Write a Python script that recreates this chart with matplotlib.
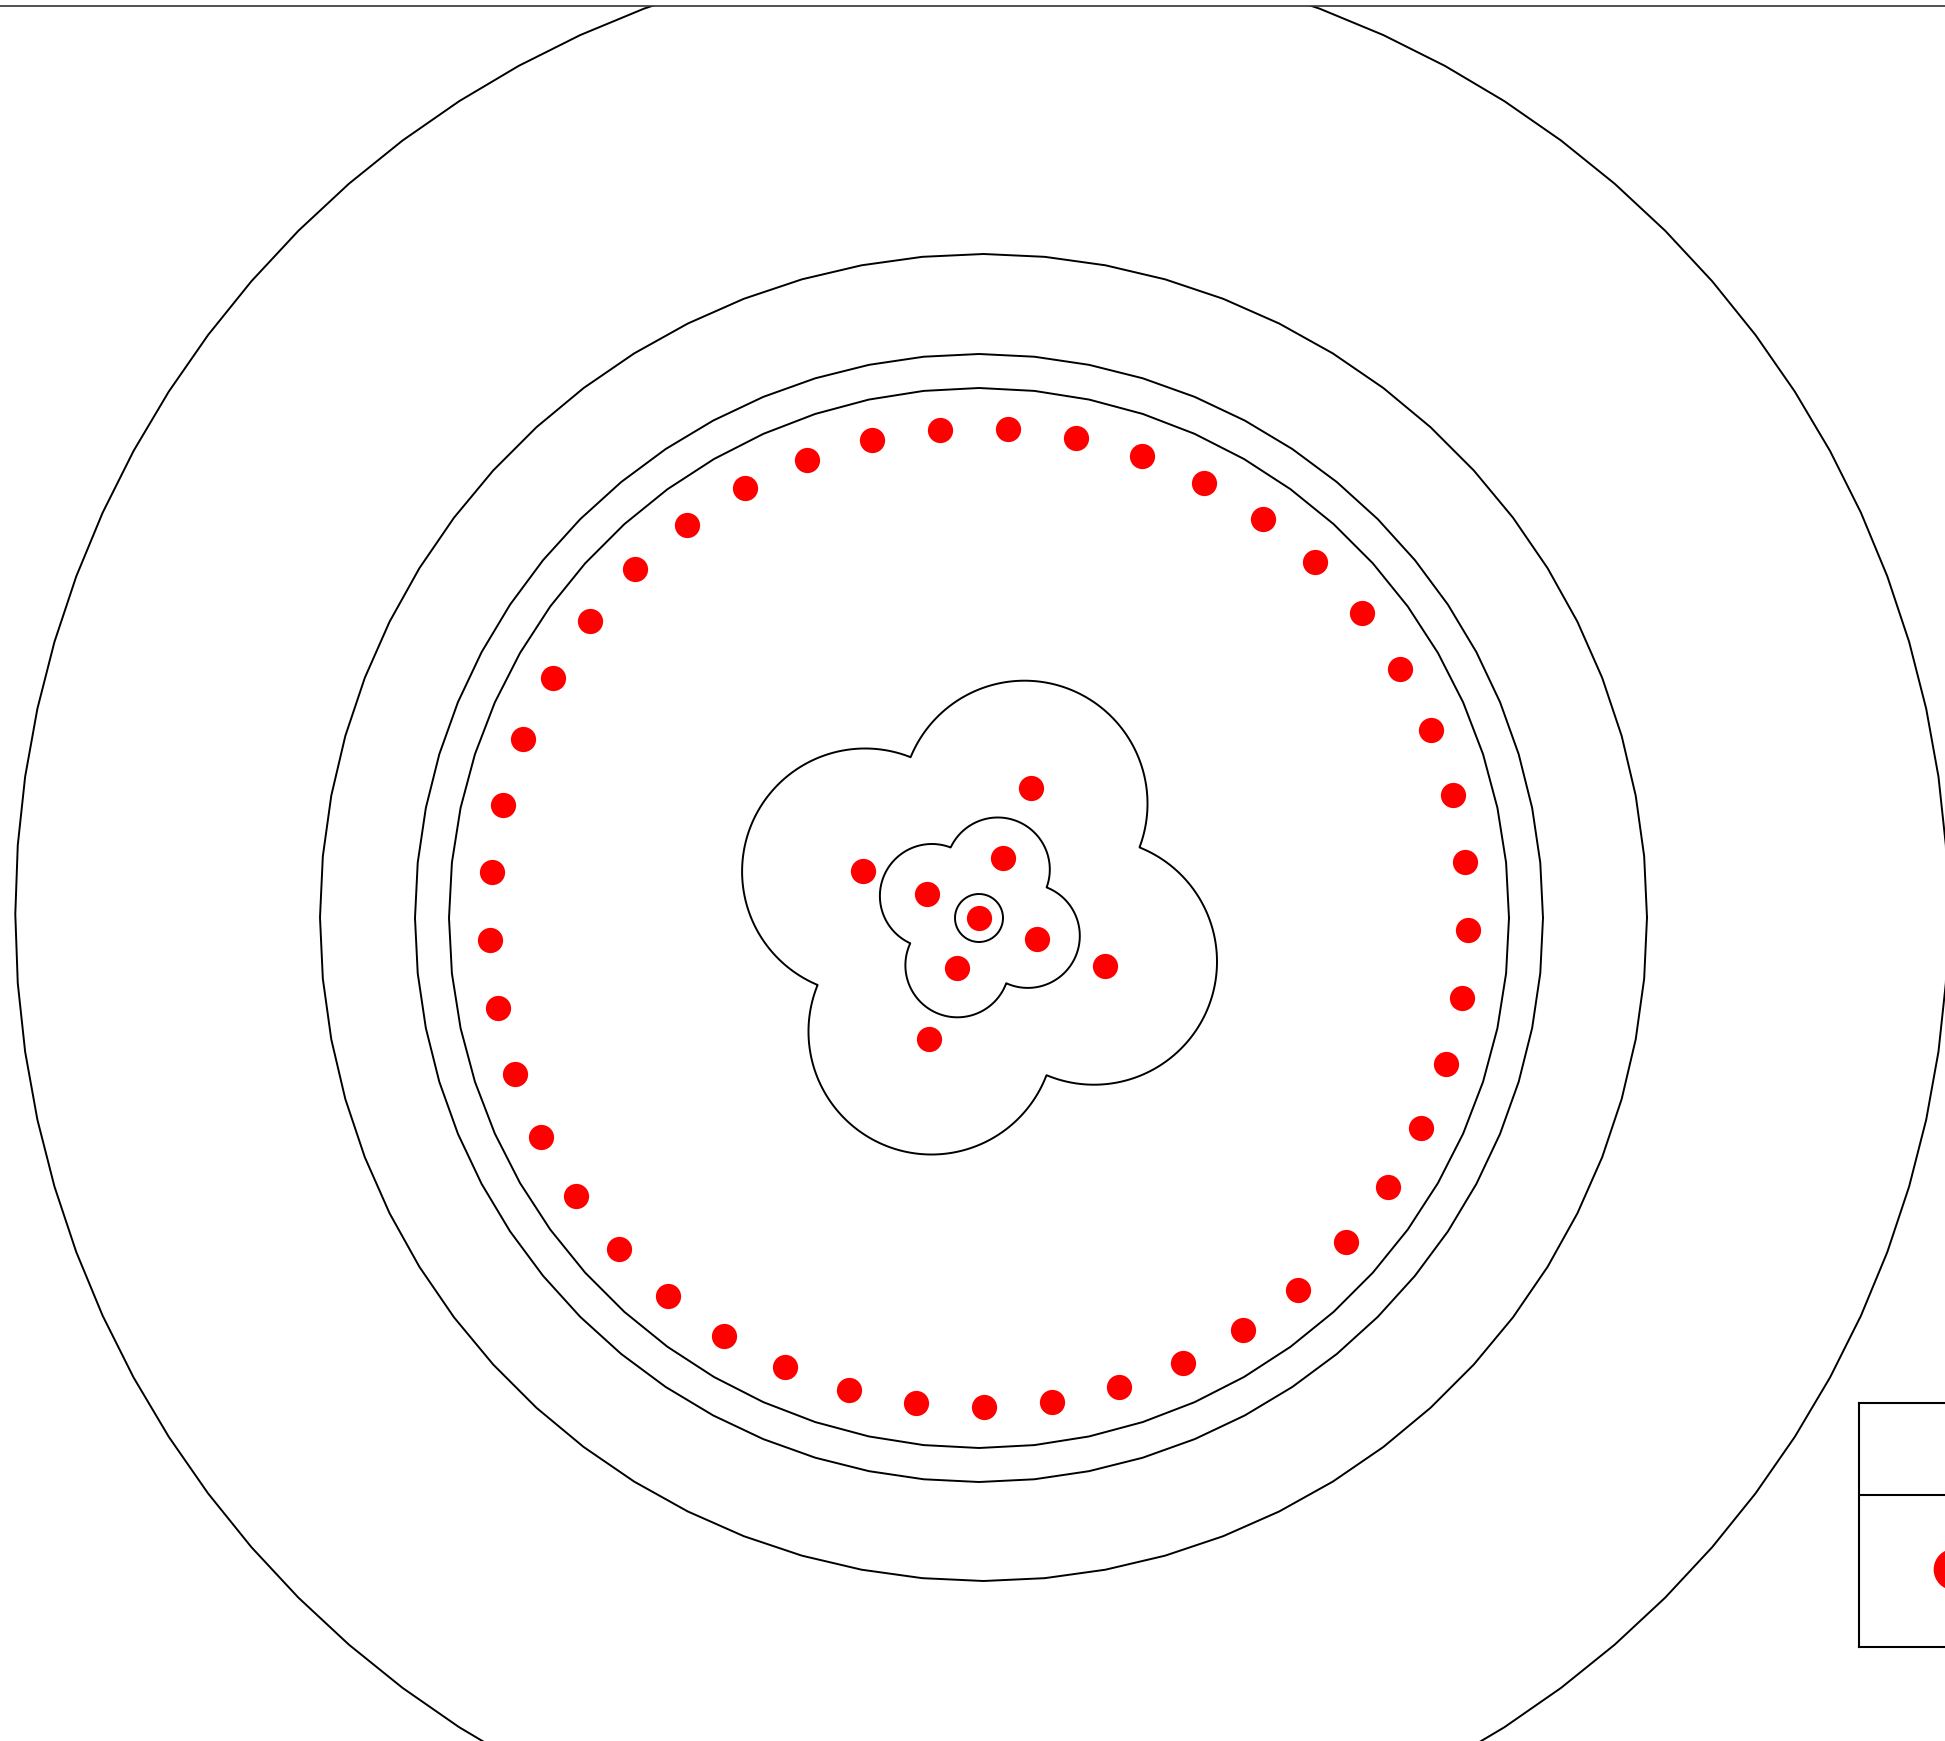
""" Nested contours around clustered points """

import numpy as np
import matplotlib.pyplot as plt

# data (units of 100 px, origin at the centre point)
center_point = (0.0, 0.0)

inner_x = [0.237, 0.577, -0.223, -0.517]
inner_y = [0.600, -0.213, -0.500, 0.240]

middle_x = [0.520, 1.260, -0.503, -1.157]
middle_y = [1.297, -0.480, -1.210, 0.470]

ring_radius = 4.895
ring_angles = [-1.4, 6.6, 14.6, 22.6, 30.6, 38.6, 46.6, 54.6, 62.6, 70.6,
               78.6, 86.6, 94.6, 102.6, 110.6, 118.6, 126.6, 134.6, 142.6,
               150.6, 158.6, 166.6, 174.6, 182.6, 190.6, 198.6, 206.6, 214.6,
               222.6, 230.6, 238.6, 246.6, 254.6, 262.6, 270.6, 278.6, 286.6,
               294.6, 302.6, 310.6, 318.6, 326.6, 334.6, 342.6, 350.6]

# contour shapes
small_circle_r = 0.24
inner_lobes_x = [0.188, 0.488, -0.216, -0.471]
inner_lobes_y = [0.485, -0.179, -0.473, 0.220]
inner_lobe_r = 0.52
outer_lobes_x = [0.455, 1.150, -0.475, -1.139]
outer_lobes_y = [1.143, -0.437, -1.135, 0.465]
outer_lobe_r = 1.23
circle_radii = [5.30, 5.64, 6.635, 9.665]
circle_cx = [0.0, 0.0, 0.045, 0.028]
circle_cy = [0.0, 0.0, 0.005, 0.038]
circle_sides = [60, 64, 68, 88]

fig = plt.figure(figsize=(19.45, 17.41), dpi=100)
ax = fig.add_axes([0, 0, 1, 1 - 6 / 1741])
ax.set_xlim(-9.79, 9.66)
ax.set_ylim(-8.23, 9.12)
ax.set_xticks([])
ax.set_yticks([])
for side in ["left", "right", "bottom"]:
    ax.spines[side].set_visible(False)
ax.spines["top"].set_linewidth(1.2)
ax.spines["top"].set_color("#333333")

lw = 1.4

# big circles (polygonal)
for r, cx, cy, n in zip(circle_radii, circle_cx, circle_cy, circle_sides):
    t = np.linspace(0, 2 * np.pi, n + 1)
    ax.plot(cx + r * np.cos(t), cy + r * np.sin(t), color="black", lw=lw)

# small circle around centre
t = np.linspace(0, 2 * np.pi, 200)
ax.plot(center_point[0] + small_circle_r * np.cos(t),
        center_point[1] + small_circle_r * np.sin(t), color="black", lw=lw)

# flowers = union of disks
g = np.linspace(-2.7, 2.7, 1400)
X, Y = np.meshgrid(g, g)
for lx, ly, lr in [(inner_lobes_x, inner_lobes_y, inner_lobe_r),
                   (outer_lobes_x, outer_lobes_y, outer_lobe_r)]:
    F = np.min([np.hypot(X - cx, Y - cy) - lr for cx, cy in zip(lx, ly)], axis=0)
    ax.contour(X, Y, F, levels=[0], colors="black", linewidths=lw)

# points
a = np.radians(ring_angles)
px = [center_point[0]] + inner_x + middle_x + list(ring_radius * np.cos(a))
py = [center_point[1]] + inner_y + middle_y + list(ring_radius * np.sin(a))
ax.scatter(px, py, s=330, color="red", linewidths=0, zorder=5)

# legend box, cut off by the figure edge
lax = fig.add_axes([1859 / 1945, 94 / 1741, 241 / 1945, 244 / 1741])
lax.set_xlim(0, 1)
lax.set_ylim(0, 1)
lax.set_xticks([])
lax.set_yticks([])
for s in lax.spines.values():
    s.set_linewidth(1.5)
lax.axhline(0.623, color="black", lw=1.5)
lax.plot([0.394], [0.32], "o", color="red", markersize=30, markeredgewidth=0)

fig.savefig("out.png", dpi=100)
